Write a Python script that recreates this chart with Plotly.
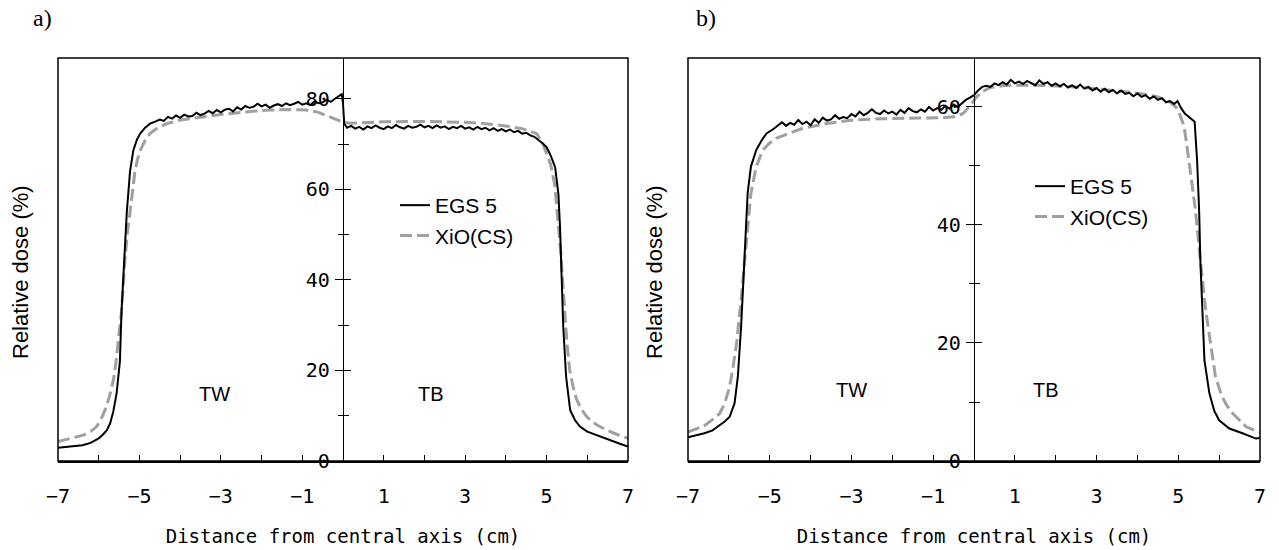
import plotly.graph_objects as go

# ---------------- data ----------------
# Panel a) EGS 5 (Monte Carlo)
a_egs_x = [-7.0, -6.8, -6.6, -6.4, -6.2, -6.0, -5.9, -5.8, -5.72, -5.64, -5.56, -5.48, -5.44, -5.38,
           -5.31, -5.23, -5.15, -5.06, -4.98, -4.86, -4.74,
           -4.6, -4.5, -4.4, -4.3, -4.2, -4.1, -4.0, -3.9, -3.8, -3.7, -3.6, -3.5, -3.4, -3.3, -3.2,
           -3.1, -3.0, -2.9, -2.8, -2.7, -2.6, -2.5, -2.4, -2.3, -2.2, -2.1, -2.0, -1.9, -1.8, -1.7,
           -1.6, -1.5, -1.4, -1.3, -1.2, -1.1, -1.0, -0.9, -0.8, -0.7, -0.6, -0.5, -0.4, -0.3, -0.2,
           -0.1, -0.03, 0.0, 0.03,
           0.1, 0.2, 0.3, 0.4, 0.5, 0.6, 0.7, 0.8, 0.9, 1.0, 1.1, 1.2, 1.3, 1.4, 1.5, 1.6, 1.7, 1.8,
           1.9, 2.0, 2.1, 2.2, 2.3, 2.4, 2.5, 2.6, 2.7, 2.8, 2.9, 3.0, 3.1, 3.2, 3.3, 3.4, 3.5, 3.6,
           3.7, 3.8, 3.9, 4.0, 4.1, 4.2, 4.3, 4.4, 4.5, 4.6, 4.7, 4.8, 4.9, 5.0, 5.1, 5.21, 5.29,
           5.33, 5.37, 5.41, 5.48, 5.58, 5.7, 5.82, 6.0, 6.23, 6.45, 6.64, 6.8, 7.0]
a_egs_y = [2.9, 3.1, 3.3, 3.5, 4.0, 5.0, 5.8, 6.8, 8.3, 11.0, 15.0, 22.0, 33.0, 44.0,
           55.0, 64.0, 68.6, 71.0, 72.3, 73.6, 74.5,
           75.0, 75.4, 75.1, 76.0, 75.6, 76.3, 75.8, 76.5, 76.1, 76.2, 76.9, 76.4, 76.7, 77.3, 76.8,
           77.5, 77.0, 77.6, 77.8, 77.2, 78.1, 77.6, 78.4, 78.0, 78.2, 78.9, 78.3, 78.7, 78.0, 78.5,
           78.8, 78.4, 79.0, 78.6, 78.9, 79.3, 78.7, 79.0, 78.6, 79.4, 79.0, 79.2, 79.8, 79.3, 80.0,
           80.6, 81.0, 79.0, 74.5,
           73.6, 74.0, 73.4, 73.8, 73.2, 73.9, 73.5, 74.1, 73.6, 73.3, 73.9, 73.5, 74.2, 73.7, 73.4,
           74.0, 73.6, 73.8, 74.3, 73.7, 74.0, 73.5, 74.1, 73.6, 73.9, 73.3, 73.8, 73.5, 74.0, 73.4,
           73.7, 73.2, 73.8, 73.3, 73.6, 73.0, 73.5, 72.9, 73.3, 72.8, 73.2, 72.6, 72.9, 72.3, 72.5,
           71.9, 71.6, 71.0, 70.2, 69.3, 67.5, 64.9, 59.0, 51.7, 40.6, 29.6, 18.6, 11.2, 9.0, 7.6,
           6.5, 5.7, 4.9, 4.3, 3.8, 3.2]

# Panel a) XiO (CS)
a_xio_x = [-7.0, -6.7, -6.38, -6.2, -6.05, -5.93, -5.81, -5.72, -5.64, -5.58, -5.52, -5.44, -5.36,
           -5.3, -5.23, -5.17, -5.11, -5.05, -4.98, -4.86, -4.74, -4.55, -4.33, -4.0, -3.51, -3.0,
           -2.28, -1.8, -1.3, -0.9, -0.6, -0.4, -0.2, 0.0, 0.2, 0.5, 1.0, 2.0, 3.0, 3.5, 4.0, 4.4,
           4.76, 4.91, 5.0, 5.1, 5.2, 5.28, 5.35, 5.4, 5.45, 5.5, 5.57, 5.65, 5.73, 5.82, 5.95, 6.07,
           6.25, 6.48, 6.75, 7.0]
a_xio_y = [4.3, 5.0, 5.7, 6.5, 7.6, 9.5, 12.0, 14.8, 17.9, 21.5, 26.0, 33.0, 44.0,
           50.0, 55.0, 60.0, 64.0, 66.5, 68.6, 70.8, 72.3, 73.6, 74.5, 75.3, 75.9, 76.5,
           77.2, 77.5, 77.6, 77.5, 77.0, 76.3, 75.5, 74.8, 74.6, 74.7, 74.9, 75.0, 74.8, 74.5, 74.0, 73.4,
           72.3, 70.0, 68.0, 65.5, 61.0, 53.0, 46.0, 39.0, 32.0, 26.0, 20.0, 16.4, 13.8, 12.0, 10.2, 9.0,
           7.9, 6.8, 5.8, 5.0]

# Panel b) EGS 5
b_egs_x = [-7.0, -6.8, -6.6, -6.4, -6.22, -6.1, -5.98, -5.86, -5.78, -5.7, -5.64, -5.59, -5.54,
           -5.46, -5.33, -5.2, -5.08, -4.9,
           -4.8, -4.7, -4.6, -4.5, -4.4, -4.3, -4.2, -4.1, -4.0, -3.9, -3.8, -3.7, -3.6, -3.5, -3.4,
           -3.3, -3.2, -3.1, -3.0, -2.9, -2.8, -2.7, -2.6, -2.5, -2.4, -2.3, -2.2, -2.1, -2.0, -1.9,
           -1.8, -1.7, -1.6, -1.5, -1.4, -1.3, -1.2, -1.1, -1.0, -0.9, -0.8, -0.7, -0.6, -0.5, -0.4,
           -0.3, -0.2, -0.1, 0.0, 0.1, 0.2, 0.3, 0.4, 0.5, 0.6, 0.7, 0.8, 0.9, 1.0, 1.1, 1.2, 1.3,
           1.4, 1.5, 1.6, 1.7, 1.8, 1.9, 2.0, 2.1, 2.2, 2.3, 2.4, 2.5, 2.6, 2.7, 2.8, 2.9, 3.0, 3.1,
           3.2, 3.3, 3.4, 3.5, 3.6, 3.7, 3.8, 3.9, 4.0, 4.1, 4.2, 4.3, 4.4, 4.5, 4.6, 4.7, 4.8, 4.9,
           4.98, 5.07, 5.16, 5.28, 5.4, 5.46, 5.51, 5.54, 5.59, 5.64, 5.76, 5.88, 6.0, 6.25, 6.57,
           6.9, 7.0]
b_egs_y = [4.0, 4.3, 4.7, 5.2, 6.1, 6.7, 7.5, 9.8, 14.3, 22.8, 31.2, 39.7, 45.4,
           49.9, 52.7, 54.3, 55.5, 56.3,
           56.9, 57.4, 56.8, 57.3, 57.0, 57.8, 57.1, 57.5, 56.9, 57.9, 57.3, 58.2, 57.7, 57.9, 58.6,
           58.0, 58.3, 58.1, 58.8, 58.4, 59.2, 58.6, 59.0, 59.6, 59.0, 58.8, 59.4, 58.9, 59.2, 58.7,
           59.5, 59.0, 59.8, 59.3, 59.1, 59.6, 59.2, 60.0, 59.4, 59.8, 59.5, 60.2, 59.7, 60.4, 60.0,
           60.6, 61.2, 61.6, 62.0, 62.8, 63.4, 63.6, 63.4, 64.0, 63.7, 64.2, 63.8, 64.6, 64.0, 64.3,
           63.9, 64.4, 64.1, 63.7, 64.5, 63.9, 64.2, 63.6, 64.0, 63.5, 63.9, 63.3, 63.7, 63.2, 63.8,
           63.1, 63.4, 62.8, 63.2, 62.6, 63.1, 62.5, 62.9, 62.3, 62.8, 62.2, 62.4, 61.8, 62.3, 61.7,
           62.0, 61.4, 61.8, 61.2, 61.5, 60.8, 61.0, 60.5,
           61.0, 59.8, 58.9, 58.2, 57.5, 51.0, 42.5, 34.0, 25.6, 17.1, 11.5, 8.5, 6.9, 5.5, 4.7,
           3.8, 3.9]

# Panel b) XiO (CS)
b_xio_x = [-7.0, -6.8, -6.6, -6.4, -6.22, -6.1, -5.98, -5.9, -5.81, -5.7, -5.57, -5.46, -5.33,
           -5.17, -5.0, -4.84, -4.5, -4.19, -3.6, -2.96, -2.3, -1.33, -0.7, -0.4, -0.25, -0.1, 0.05,
           0.2, 0.4, 0.7, 1.0, 1.5, 2.0, 2.5, 3.0, 3.31, 3.7, 4.13, 4.5, 4.78, 4.94, 5.05, 5.14, 5.2,
           5.26, 5.34, 5.42, 5.54, 5.67, 5.79, 5.91, 6.07, 6.2, 6.33, 6.5, 6.66, 6.94, 7.0]
b_xio_y = [4.9, 5.4, 6.0, 7.0, 8.1, 9.8, 12.6, 15.8, 20.0, 27.3, 36.9, 45.4, 49.9,
           52.7, 53.9, 54.7, 55.6, 56.4, 57.2, 57.8, 58.0, 58.1, 58.2, 58.4, 59.0, 60.2, 61.6,
           62.6, 63.3, 63.6, 63.7, 63.7, 63.6, 63.4, 63.1, 62.9, 62.6, 62.2, 61.7, 60.9, 60.0, 58.5, 56.7, 54.0,
           51.0, 46.5, 42.5, 34.0, 25.6, 19.9, 14.3, 10.9, 9.3, 8.1, 6.9, 5.8, 5.0, 4.9]

x_tickvals = [-7, -5, -3, -1, 1, 3, 5, 7]
a_y_tickvals = [0, 20, 40, 60, 80]
b_y_tickvals = [0, 20, 40, 60]
series_names = ["EGS 5", "XiO(CS)"]
x_title = "Distance from central axis (cm)"
y_title = "Relative dose (%)"

# ---------------- styling ----------------
W, H = 1279, 550
MONO = "DejaVu Sans Mono"
SANS = "Liberation Sans, Arial, sans-serif"
SERIF = "Liberation Serif, Times New Roman, serif"
BLACK = "#000000"
GRAY = "#a0a0a0"

xa_dom = [58 / W, 628 / W]
xb_dom = [688 / W, 1260 / W]
y_dom = [89 / H, 492 / H]

fig = go.Figure()

# panel a
fig.add_trace(go.Scatter(x=a_egs_x, y=a_egs_y, mode="lines", name=series_names[0],
                         line=dict(color=BLACK, width=2), xaxis="x", yaxis="y3",
                         legend="legend"))
fig.add_trace(go.Scatter(x=a_xio_x, y=a_xio_y, mode="lines", name=series_names[1],
                         line=dict(color=GRAY, width=3, dash="12px,5px"), xaxis="x", yaxis="y",
                         legend="legend"))
# panel b
fig.add_trace(go.Scatter(x=b_egs_x, y=b_egs_y, mode="lines", name=series_names[0],
                         line=dict(color=BLACK, width=2), xaxis="x2", yaxis="y4",
                         legend="legend2"))
fig.add_trace(go.Scatter(x=b_xio_x, y=b_xio_y, mode="lines", name=series_names[1],
                         line=dict(color=GRAY, width=3, dash="12px,5px"), xaxis="x2", yaxis="y2",
                         legend="legend2"))


def xaxis_cfg(dom, anchor):
    return dict(domain=dom, anchor=anchor, range=[-7, 7], tickmode="array", tickvals=x_tickvals,
                automargin=False,
                ticks="inside", ticklen=6, tickwidth=1.2, tickcolor=BLACK,
                minor=dict(ticks="inside", dtick=1, tick0=0, ticklen=6, tickwidth=1.2, tickcolor=BLACK),
                showline=True, linewidth=2, linecolor=BLACK, showgrid=False, zeroline=False,
                tickfont=dict(family=MONO, size=20, color=BLACK), ticklabelstandoff=16,
                title=dict(text=x_title, font=dict(family=MONO, size=19, color=BLACK), standoff=23))


def yaxis_cfg(pos, rng, tv, inside=False, overlay=None):
    d = dict(domain=y_dom, anchor="free", position=pos, range=rng, tickmode="array", tickvals=tv,
             automargin=False, showgrid=False, zeroline=False, tickcolor=BLACK, tickwidth=1.2)
    if inside:
        d.update(ticks="inside", ticklen=7, showticklabels=False, showline=False, overlaying=overlay,
                 minor=dict(ticks="inside", dtick=10, ticklen=5, tickwidth=1.2, tickcolor=BLACK))
    else:
        d.update(ticks="outside", ticklen=8, showline=True, linewidth=1.2, linecolor=BLACK,
                 tickfont=dict(family=MONO, size=20, color=BLACK), ticklabelstandoff=1,
                 minor=dict(ticks="outside", dtick=10, ticklen=5, tickwidth=1.2, tickcolor=BLACK))
    return d


pos_a = (xa_dom[0] + xa_dom[1]) / 2
pos_b = (xb_dom[0] + xb_dom[1]) / 2
ra = [0, 89]
rb = [0, 68.3]

fig.update_layout(
    width=W, height=H, margin=dict(l=0, r=0, t=0, b=0, autoexpand=False),
    paper_bgcolor="white", plot_bgcolor="white", showlegend=True,
    xaxis=xaxis_cfg(xa_dom, "y"),
    xaxis2=xaxis_cfg(xb_dom, "y2"),
    yaxis=yaxis_cfg(pos_a, ra, a_y_tickvals),
    yaxis3=yaxis_cfg(pos_a, ra, a_y_tickvals, inside=True, overlay="y"),
    yaxis2=yaxis_cfg(pos_b, rb, b_y_tickvals),
    yaxis4=yaxis_cfg(pos_b, rb, b_y_tickvals, inside=True, overlay="y2"),
    legend=dict(x=395 / W, y=1 - 185 / H, xanchor="left", yanchor="top", bgcolor="rgba(0,0,0,0)",
                font=dict(family=SANS, size=21, color=BLACK), itemwidth=30, borderwidth=0),
    legend2=dict(x=1030 / W, y=1 - 166 / H, xanchor="left", yanchor="top", bgcolor="rgba(0,0,0,0)",
                 font=dict(family=SANS, size=21, color=BLACK), itemwidth=30, borderwidth=0),
)

# plot frames
for xr, yr in [("x", "y"), ("x2", "y2")]:
    fig.add_shape(type="rect", xref=f"{xr} domain", yref=f"{yr} domain", x0=0, x1=1, y0=0, y1=1,
                  line=dict(color=BLACK, width=1.5), fillcolor="rgba(0,0,0,0)", layer="above")

anns = [
    dict(text="a)", x=42 / W, y=1 - 18 / H, xref="paper", yref="paper",
         font=dict(family=SERIF, size=24, color=BLACK)),
    dict(text="b)", x=706 / W, y=1 - 18 / H, xref="paper", yref="paper",
         font=dict(family=SERIF, size=24, color=BLACK)),
    dict(text=y_title, x=20 / W, y=1 - 272 / H, xref="paper", yref="paper", textangle=-90,
         font=dict(family=SANS, size=22, color=BLACK)),
    dict(text=y_title, x=654 / W, y=1 - 272 / H, xref="paper", yref="paper", textangle=-90,
         font=dict(family=SANS, size=22, color=BLACK)),
    dict(text="TW", x=-3.15, y=14.8, xref="x", yref="y", font=dict(family=SANS, size=20, color=BLACK)),
    dict(text="TB", x=2.15, y=14.8, xref="x", yref="y", font=dict(family=SANS, size=20, color=BLACK)),
    dict(text="TW", x=-3.0, y=12.0, xref="x2", yref="y2", font=dict(family=SANS, size=20, color=BLACK)),
    dict(text="TB", x=1.75, y=12.0, xref="x2", yref="y2", font=dict(family=SANS, size=20, color=BLACK)),
]
for a in anns:
    a.update(showarrow=False, xanchor="center", yanchor="middle")
    fig.add_annotation(**a)

fig.write_html("out.html")
